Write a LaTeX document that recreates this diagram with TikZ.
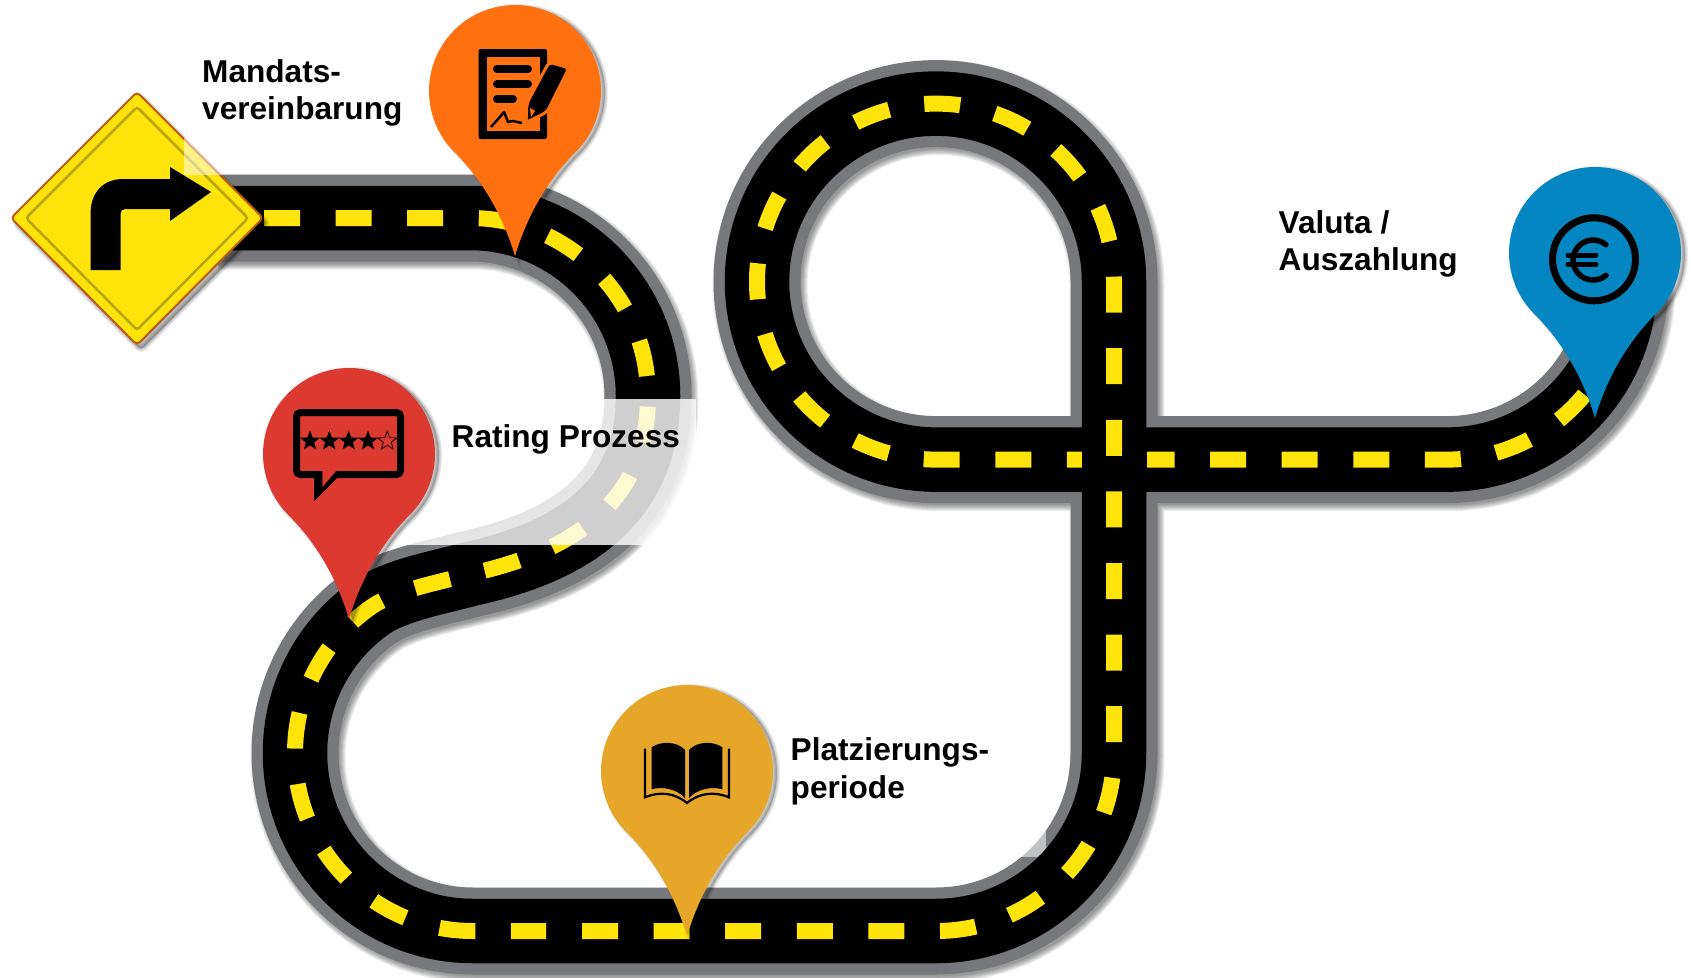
\documentclass[tikz,border=0pt]{standalone}
\usepackage{fontspec}
\setmainfont{Liberation Sans}
\usetikzlibrary{shapes.geometric}
\definecolor{roadgray}{HTML}{77787B}
\definecolor{lane}{HTML}{FFE40C}
\definecolor{pinorange}{HTML}{FF7110}
\definecolor{pinred}{HTML}{DC3A30}
\definecolor{pingold}{HTML}{E5A629}
\definecolor{pinblue}{HTML}{0386C1}
\definecolor{signedge}{HTML}{BD5A10}
\definecolor{signinner}{HTML}{B5A512}
\newcommand{\roadpath}{(215,218) -- (470,218)
  .. controls (568.3,218) and (648,297.7) .. (648,396)
  .. controls (648,490) and (590,548) .. (470,574)
  .. controls (441,582) and (395.5,590) .. (370.9,607.2)
  .. controls (323.3,640.5) and (295,694.9) .. (295,753)
  .. controls (295,851.3) and (374.7,931) .. (473,931)
  -- (936,931)
  .. controls (1034.3,931) and (1114,851.3) .. (1114,753)
  -- (1114,281.6)
  .. controls (1114,183.3) and (1034.3,103.6) .. (936,103.6)
  .. controls (837.2,103.6) and (757,183.3) .. (757,281.6)
  .. controls (757,379.9) and (837.2,459.6) .. (936,459.6)
  -- (1447,459.6)
  .. controls (1545.3,459.6) and (1625,379.9) .. (1625,281.6)}
\newcommand{\lanepathA}{(264,218) -- (470,218)
  .. controls (568.3,218) and (648,297.7) .. (648,396)}
\newcommand{\lanepathC}{(648,396)
  .. controls (648,490) and (590,548) .. (470,574)
  .. controls (441,582) and (395.5,590) .. (370.9,607.2)
  .. controls (323.3,640.5) and (295,694.9) .. (295,753)
  .. controls (295,851.3) and (374.7,931) .. (473,931)
  -- (546,931)}
\newcommand{\lanepathB}{(582,931) -- (936,931)
  .. controls (1034.3,931) and (1114,851.3) .. (1114,753)
  -- (1114,281.6)
  .. controls (1114,183.3) and (1034.3,103.6) .. (936,103.6)
  .. controls (837.2,103.6) and (757,183.3) .. (757,281.6)
  .. controls (757,379.9) and (837.2,459.6) .. (936,459.6)
  -- (1447,459.6)
  .. controls (1545.3,459.6) and (1625,379.9) .. (1625,281.6)}
\newcommand{\pinoutline}{(60.8,60.8)
  .. controls (39.6,82) and (15,115) .. (0,165)
  .. controls (-15,115) and (-39.6,82) .. (-60.8,60.8)
  .. controls (-94.4,27.2) and (-94.4,-27.2) .. (-60.8,-60.8)
  .. controls (-27.2,-94.4) and (27.2,-94.4) .. (60.8,-60.8)
  .. controls (94.4,-27.2) and (94.4,27.2) .. (60.8,60.8) -- cycle}
\newcommand{\signoutline}{(137,92) -- (263,218) -- (137,345) -- (11,218) -- cycle}
\tikzset{
  lanedash/.style={draw=lane,line width=16pt,dash pattern=on 36pt off 35.6pt},
  softshadow/.style={draw=black,line width=#1pt,opacity=.07},
  pics/droppin/.style={code={
    \begin{scope}[shift={(4,2)}]
      \foreach \w in {6,4,2}{\fill[black,opacity=.08] [draw=black,line width=\w pt] \pinoutline;}
    \end{scope}
    \fill[#1] \pinoutline;
  }},
  label text/.style={anchor=base west,inner sep=0pt,align=left,
    font=\fontsize{31.6}{37.7}\selectfont\bfseries}
}
\begin{document}
\begin{tikzpicture}[x=1pt,y=-1pt,line join=miter]
\useasboundingbox (0,0) rectangle (1691,977);
% road shadow
\begin{scope}[shift={(3,4)}]
  \foreach \w in {95,93,91,89,87,85,83}{\draw[softshadow=\w] \roadpath;}
\end{scope}
% road
\draw[roadgray,line width=87pt] \roadpath;
\fill[white,opacity=.54] (1000,820) rectangle (1046,857);
\draw[black,line width=64.5pt] \roadpath;
\draw[lanedash] \lanepathA;
\draw[lanedash,dash phase=61pt] \lanepathC;
\draw[lanedash] \lanepathB;
\fill[black] (1082,450.5) rectangle (1147,469);
\draw[lane,line width=16pt] (1114,456) -- (1114,420.7);
% fading overlay
\fill[white,opacity=.81] (368,399) rectangle (696,545);
% sign
\begin{scope}[shift={(4,5)}]
  \foreach \w in {7,5,3,1}{\fill[black,opacity=.08] [draw=black,line width=\w pt,rounded corners=4pt] \signoutline;}
\end{scope}
\draw[signedge,fill=lane,line width=2pt,rounded corners=4pt] \signoutline;
\draw[signinner,line width=2.5pt,rounded corners=3pt] (137,107) -- (248,218) -- (137,330) -- (26,218) -- cycle;
\fill[black] (90.6,270) -- (90.6,213) .. controls (90.6,193) and (103,179) .. (123,179) -- (170,179) -- (170,167) -- (211,192) -- (170,221) -- (170,209) -- (125,209) .. controls (122,209) and (120.5,211) .. (120.5,214) -- (120.5,270) -- cycle;
\fill[white,opacity=.5] (184,138) rectangle (222,175);
% pins
\pic at (515,91) {droppin=pinorange};
\pic at (349,454) {droppin=pinred};
\pic at (687,771) {droppin=pingold};
\pic at (1595,253) {droppin=pinblue};
% document icon
\fill[black,rounded corners=2pt] (478.6,49) rectangle (547,139);
\fill[pinorange] (486.6,57) rectangle (540,131);
\draw[black,line width=8pt,line cap=round] (497,69) -- (528,69);
\draw[black,line width=8pt,line cap=round] (497,84) -- (528,84);
\draw[black,line width=8pt,line cap=round] (497,99) -- (513,99);
\draw[black,line width=2.5pt,line join=round] (491,127) -- (499,118) -- (504,112) -- (508,122) -- (513,121) -- (522,123);
\draw[pinorange,fill=black,line width=3pt,rounded corners=4pt] (526,122.7) -- (527,103) -- (549,62) -- (569,68) -- (547,112) -- cycle;
\fill[pinorange] (530,108) -- (535,111) -- (531,117) -- cycle;
% speech bubble icon
\fill[black] (314,501) -- (314,475) -- (340,475) -- cycle;
\draw[black,line width=7pt,rounded corners=4pt,fill=pinred] (296.5,412.5) rectangle (400.5,474.5);
\fill[pinred] (322.3,471) -- (322.3,487) -- (336,471) -- cycle;
\foreach \n/\xp in {1/310,2/329.3,3/348.7,4/368}{
  \node[star,star points=5,star point ratio=2.4,minimum size=21pt,inner sep=0pt,fill=black] (star\n) at (\xp,441) {};
}
\node[star,star points=5,star point ratio=2.4,minimum size=20pt,inner sep=0pt,draw=black,line width=.7pt] (star5) at (387.3,441) {};
% book icon
\fill[black] (651.7,747.3) .. controls (660,741) and (677,741) .. (685,750) -- (685,798) .. controls (677,789) and (662,786) .. (651.7,789.3) -- cycle;
\fill[black] (722.3,747.3) .. controls (714,741) and (697,741) .. (689,750) -- (689,798) .. controls (697,789) and (712,786) .. (722.3,789.3) -- cycle;
\draw[black,line width=2.2pt] (645,748.5) -- (645,797.3) .. controls (660,791) and (675,793) .. (687,803) .. controls (699,793) and (714,791) .. (729,797.3) -- (729,748.5);
% euro icon
\draw[black,line width=7pt] (1594,259.3) circle[radius=41.5pt];
\draw[black,line width=5.5pt,line cap=round] (1605.9,244.7) arc[start angle=50,end angle=310,radius=20pt];
\draw[black,line width=5pt,line cap=round] (1568,255) -- (1596,255);
\draw[black,line width=5pt,line cap=round] (1568,264.3) -- (1596,264.3);
% labels
\node[label text] (mandat) at (202,119.7) {Mandats-\\vereinbarung};
\node[label text] (rating) at (451.5,447.2) {Rating Prozess};
\node[label text] (platz) at (790.5,798.4) {Platzierungs-\\periode};
\node[label text] (valuta) at (1278.5,270.7) {Valuta /\\Auszahlung};
\end{tikzpicture}
\end{document}
